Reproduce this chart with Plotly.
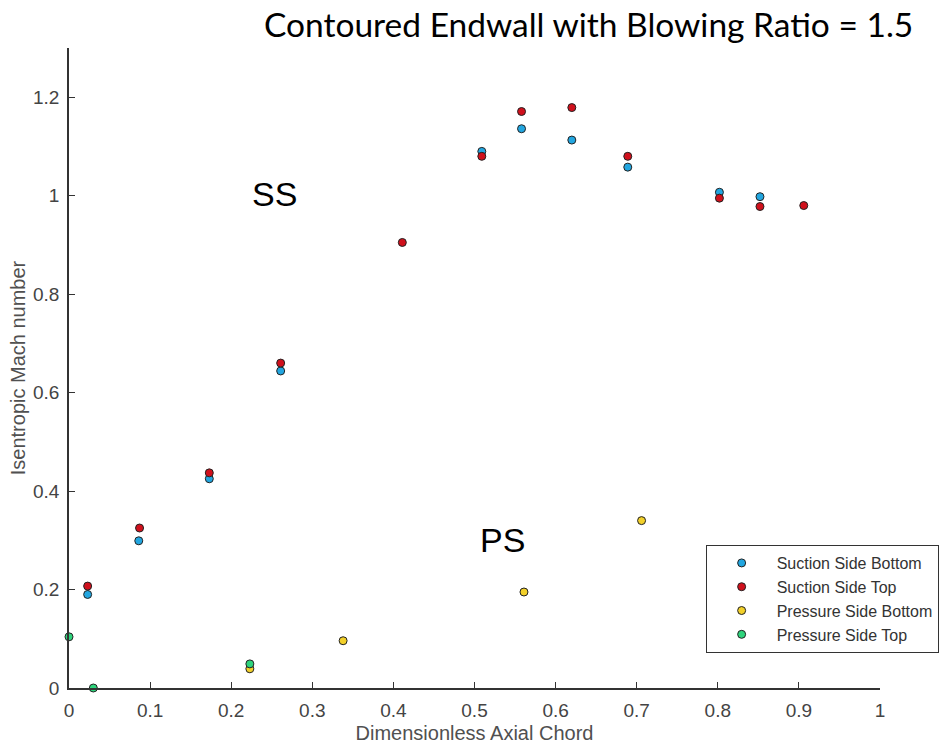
import plotly.graph_objects as go

ssb_x = [0.023, 0.086, 0.173, 0.261, 0.509, 0.558, 0.620, 0.689, 0.802, 0.852]
ssb_y = [0.190, 0.299, 0.425, 0.644, 1.090, 1.136, 1.113, 1.058, 1.007, 0.998]

sst_x = [0.023, 0.087, 0.173, 0.261, 0.411, 0.509, 0.558, 0.620, 0.689, 0.802, 0.852, 0.906]
sst_y = [0.207, 0.325, 0.437, 0.660, 0.905, 1.080, 1.171, 1.179, 1.080, 0.995, 0.978, 0.980]

psb_x = [0.223, 0.338, 0.561, 0.706]
psb_y = [0.039, 0.096, 0.195, 0.340]

pst_x = [0.000, 0.030, 0.223]
pst_y = [0.104, 0.000, 0.049]

series = [
    ("Suction Side Bottom", ssb_x, ssb_y, "#22a6e0"),
    ("Suction Side Top", sst_x, sst_y, "#d0101c"),
    ("Pressure Side Bottom", psb_x, psb_y, "#f2d02a"),
    ("Pressure Side Top", pst_x, pst_y, "#2ed47c"),
]

fig = go.Figure()
for name, xs, ys, c in series:
    fig.add_trace(go.Scatter(
        x=xs, y=ys, mode="markers", name=name,
        marker=dict(size=8, color=c, line=dict(color="#222222", width=1)),
        cliponaxis=False,
    ))

axis_common = dict(
    showline=True, linecolor="#333333", linewidth=1.5,
    ticks="inside", ticklen=6, tickwidth=1.2, tickcolor="#333333",
    showgrid=False, zeroline=False, automargin=False,
    tickfont=dict(family="Liberation Sans, Arial", size=19, color="#444444"),
    title_font=dict(family="Liberation Sans, Arial", size=20, color="#505050"),
)

fig.update_layout(
    width=943, height=749,
    margin=dict(l=69, r=63, t=48, b=61, autoexpand=False),
    plot_bgcolor="white", paper_bgcolor="white",
    xaxis=dict(range=[0, 1], dtick=0.1, tick0=0, ticklabelstandoff=4,
               title=dict(text="Dimensionless Axial Chord", standoff=6), **axis_common),
    yaxis=dict(range=[0, 1.3], dtick=0.2, tick0=0, ticklabelstandoff=4,
               title=dict(text="Isentropic Mach number", standoff=2), **axis_common),
    legend=dict(
        x=0.785, y=0.2234, xanchor="left", yanchor="top",
        bordercolor="#333333", borderwidth=1, bgcolor="white",
        font=dict(family="Liberation Sans, Arial", size=16, color="#333333"),
        tracegroupgap=0, itemwidth=60,
    ),
    showlegend=True,
    annotations=[
        dict(text="Contoured Endwall with Blowing Ratio = 1.5", xref="paper", yref="paper",
             x=1.043, y=1.037, xanchor="right", yanchor="middle", showarrow=False,
             font=dict(family="Lato, Open Sans", size=33.5, color="black")),
        dict(text="SS", xref="x", yref="y", x=0.254, y=1.003, showarrow=False,
             font=dict(family="Liberation Sans, Arial", size=34, color="black")),
        dict(text="PS", xref="x", yref="y", x=0.535, y=0.301, showarrow=False,
             font=dict(family="Liberation Sans, Arial", size=34, color="black")),
    ],
)

fig.write_html("out.html")
